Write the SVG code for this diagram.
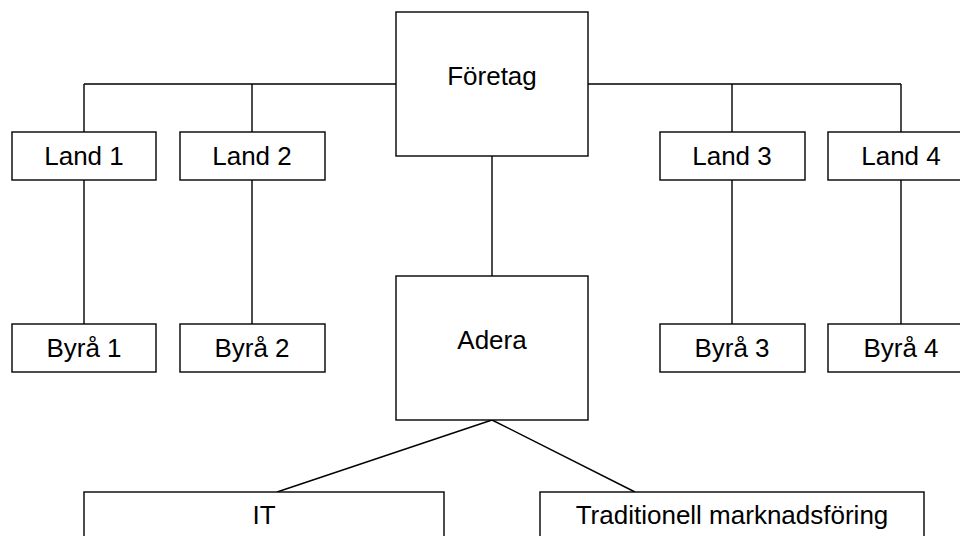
<svg xmlns="http://www.w3.org/2000/svg" width="960" height="536" viewBox="0 0 960 536">
<style>
.box{fill:#fff;stroke:#000;stroke-width:1.4}
.ln{fill:none;stroke:#000;stroke-width:1.4}
text{font-family:"Liberation Sans",Arial,sans-serif;font-size:26px;fill:#000;text-anchor:middle}
</style>
<rect width="960" height="536" fill="#fff"/>
<g id="connectors">
<path class="ln" d="M84,84H396M588,84H901M84,84V132M252,84V132M732,84V132M901,84V132"/>
<path class="ln" d="M84,180V324M252,180V324M732,180V324M901,180V324"/>
<path class="ln" d="M492,156V276"/>
<path class="ln" d="M492,420L277,492M492,420L635,492"/>
</g>
<g id="foretag"><rect class="box" x="396" y="12" width="192" height="144"/><text x="492" y="85">Företag</text></g>
<g id="land1"><rect class="box" x="12" y="132" width="144" height="48"/><text x="84" y="165">Land 1</text></g>
<g id="land2"><rect class="box" x="180" y="132" width="145" height="48"/><text x="252" y="165">Land 2</text></g>
<g id="land3"><rect class="box" x="660" y="132" width="145" height="48"/><text x="732" y="165">Land 3</text></g>
<g id="land4"><rect class="box" x="828" y="132" width="145" height="48"/><text x="901" y="165">Land 4</text></g>
<g id="byra1"><rect class="box" x="12" y="324" width="144" height="48"/><text x="84" y="357">Byrå 1</text></g>
<g id="byra2"><rect class="box" x="180" y="324" width="145" height="48"/><text x="252" y="357">Byrå 2</text></g>
<g id="byra3"><rect class="box" x="660" y="324" width="145" height="48"/><text x="732" y="357">Byrå 3</text></g>
<g id="byra4"><rect class="box" x="828" y="324" width="145" height="48"/><text x="901" y="357">Byrå 4</text></g>
<g id="adera"><rect class="box" x="396" y="276" width="192" height="144"/><text x="492" y="349">Adera</text></g>
<g id="it"><rect class="box" x="84" y="492" width="360" height="80"/><text x="264" y="524">IT</text></g>
<g id="trad"><rect class="box" x="540" y="492" width="384" height="80"/><text x="732" y="524">Traditionell marknadsföring</text></g>
</svg>
